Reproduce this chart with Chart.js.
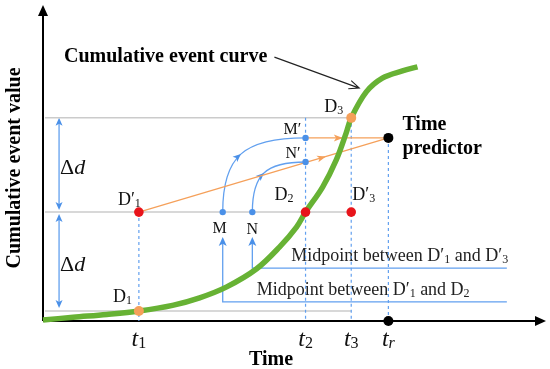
<!DOCTYPE html>
<html>
<head>
<meta charset="utf-8">
<script src="https://cdn.jsdelivr.net/npm/chart.js@4.4.1/dist/chart.umd.min.js"></script>
<style>
  html, body { margin: 0; padding: 0; background: #fff; }
  canvas { display: block; }
</style>
</head>
<body>
<canvas id="chart" width="550" height="369"></canvas>
<script>
// ── Data (time / value units, axes run 0..10) ──
const curveTime  = [0.00, 0.60, 1.27, 1.91, 2.58, 3.12, 3.66, 4.25, 4.71, 5.05, 5.23, 5.57, 5.84, 6.04, 6.14, 6.44, 6.76, 7.16, 7.46];
const curveValue = [0.03, 0.12, 0.21, 0.32, 0.50, 0.74, 1.09, 1.66, 2.36, 3.00, 3.48, 4.28, 5.14, 6.01, 6.49, 7.32, 7.76, 7.99, 8.12];

const tickLabels = ['1', '2', '3', 'r'];
const tickTimes  = [1.91, 5.23, 6.14, 6.88];
const dashTops   = [3.48, 6.49, 6.49, 5.85];

const levelValues = [0.32, 3.48, 6.49];
const levelEnd = 6.14;

const shiftedNames = ['D′1', 'D2', 'D′3'];
const shiftedTime  = [1.91, 5.23, 6.14];
const shiftedValue = [3.48, 3.48, 3.48];

const eventNames = ['D1', 'D3'];
const eventTime  = [1.91, 6.14];
const eventValue = [0.32, 6.49];

const midNames = ['M', 'N', 'M′', 'N′'];
const midTime  = [3.58, 4.17, 5.23, 5.23];
const midValue = [3.48, 3.48, 5.85, 5.08];

const predictorTime = [6.88, 6.88];
const predictorValue = [5.85, 0];

const bracketValues = [0.61, 1.69];
const bracketTip = 2.68;
const bracketEnd = 9.24;
const bracketNotes = [
  ['Midpoint between D′', '1', ' and D', '2'],
  ['Midpoint between D′', '1', ' and D′', '3']
];

const deltaTime = 0.32;
const captionFrom = [4.61, 8.43];
const captionTo = [6.30, 7.44];

// ── Style ──
const SERIF = '"Liberation Serif", "Times New Roman", serif';
const GREEN = '#67b234';
const ORANGE = '#f5a05a';
const RED = '#e8141b';
const BLUE = '#4a90e8';
const BLUE_LINE = '#62a0ef';
const GRAY = '#cbcbcb';

const font = (size, style = '') => `${style} ${size}px ${SERIF}`.trim();

function toXY(xs, ys) {
  return xs.map((x, i) => ({ x, y: ys[i] }));
}

function lineSet(data, color, width, extra = {}) {
  return Object.assign({
    data, showLine: true, borderColor: color, borderWidth: width,
    pointRadius: 0, clip: false, order: 5
  }, extra);
}

function pointSet(data, color, radius) {
  return {
    data, showLine: false, backgroundColor: color, borderColor: color,
    borderWidth: 0, pointRadius: radius, clip: false, order: 0
  };
}

// rich text: parts = [text, sub, text, sub ...]
function drawRich(ctx, x, y, parts, size, subSize, align = 'left', mainStyle = '', subStyle = '') {
  const segs = parts.map((t, i) => ({
    t, f: i % 2 ? font(subSize, subStyle) : font(size, mainStyle), dy: i % 2 ? 2 : 0
  }));
  let w = 0;
  segs.forEach(s => { ctx.font = s.f; s.w = ctx.measureText(s.t).width; w += s.w; });
  let cx = align === 'center' ? x - w / 2 : align === 'right' ? x - w : x;
  ctx.textAlign = 'left';
  ctx.textBaseline = 'alphabetic';
  segs.forEach(s => { ctx.font = s.f; ctx.fillText(s.t, cx, y + s.dy); cx += s.w; });
}

function splitName(name) {
  const last = name.slice(-1);
  return /[0-9]/.test(last) ? [name.slice(0, -1), last] : [name];
}

function arrowHead(ctx, x, y, angle, len, half, color, notch = 0.75) {
  ctx.save();
  ctx.translate(x, y);
  ctx.rotate(angle);
  ctx.fillStyle = color;
  ctx.beginPath();
  ctx.moveTo(0, 0);
  ctx.lineTo(-len, -half);
  ctx.lineTo(-len * notch, 0);
  ctx.lineTo(-len, half);
  ctx.closePath();
  ctx.fill();
  ctx.restore();
}

const diagram = {
  id: 'diagram',
  beforeDatasetsDraw(chart) {
    const { ctx, chartArea: a, scales } = chart;
    const px = v => scales.x.getPixelForValue(v);
    const py = v => scales.y.getPixelForValue(v);
    ctx.save();

    // axes
    ctx.strokeStyle = '#000';
    ctx.lineWidth = 2;
    ctx.beginPath();
    ctx.moveTo(a.left, a.bottom); ctx.lineTo(a.left, a.top + 4);
    ctx.moveTo(a.left, a.bottom); ctx.lineTo(a.right - 6, a.bottom);
    ctx.stroke();
    arrowHead(ctx, a.left, a.top - 3, -Math.PI / 2, 11, 5, '#000', 1);
    arrowHead(ctx, a.right + 1, a.bottom, 0, 11, 5, '#000', 1);

    // Δd double arrows
    const dx = px(deltaTime);
    const spans = [[levelValues[2], levelValues[1]], [levelValues[1], levelValues[0]]];
    ctx.strokeStyle = BLUE_LINE;
    ctx.lineWidth = 1.3;
    spans.forEach(([top, bot], i) => {
      const y1 = py(top) + (i ? 2 : 0), y2 = py(bot) - (i ? 3 : 2);
      ctx.beginPath(); ctx.moveTo(dx, y1 + 4); ctx.lineTo(dx, y2 - 4); ctx.stroke();
      arrowHead(ctx, dx, y1, -Math.PI / 2, 8, 3.5, BLUE);
      arrowHead(ctx, dx, y2, Math.PI / 2, 8, 3.5, BLUE);
    });

    // arcs M -> M', N -> N'
    [[0, 2], [1, 3]].forEach(([s, e]) => {
      const p0 = { x: px(midTime[s]), y: py(midValue[s]) };
      const p3 = { x: px(midTime[e]), y: py(midValue[e]) };
      const p1 = { x: p0.x, y: p0.y - 0.75 * (p0.y - p3.y) };
      const p2 = { x: p3.x - 0.75 * (p3.x - p0.x), y: p3.y };
      ctx.strokeStyle = BLUE_LINE;
      ctx.lineWidth = 1.3;
      ctx.beginPath();
      ctx.moveTo(p0.x, p0.y);
      ctx.bezierCurveTo(p1.x, p1.y, p2.x, p2.y, p3.x, p3.y);
      ctx.stroke();
      const m = {
        x: 0.125 * p0.x + 0.375 * p1.x + 0.375 * p2.x + 0.125 * p3.x,
        y: 0.125 * p0.y + 0.375 * p1.y + 0.375 * p2.y + 0.125 * p3.y
      };
      const d = {
        x: 0.75 * (p1.x - p0.x) + 1.5 * (p2.x - p1.x) + 0.75 * (p3.x - p2.x),
        y: 0.75 * (p1.y - p0.y) + 1.5 * (p2.y - p1.y) + 0.75 * (p3.y - p2.y)
      };
      arrowHead(ctx, m.x, m.y, Math.atan2(d.y, d.x), 8, 3.5, BLUE);
    });

    // orange arrowheads
    const orangeFrom = [[shiftedTime[0], shiftedValue[0]], [midTime[2], midValue[2]]];
    [0.75, 0.45].forEach((f, i) => {
      const x0 = px(orangeFrom[i][0]), y0 = py(orangeFrom[i][1]);
      const x1 = px(predictorTime[0]), y1 = py(predictorValue[0]);
      arrowHead(ctx, x0 + (x1 - x0) * f, y0 + (y1 - y0) * f, Math.atan2(y1 - y0, x1 - x0), 9, 3.5, ORANGE);
    });

    // midpoint brackets
    const noteShift = [34, 39];
    bracketValues.forEach((v, i) => {
      const x = px(midTime[i]);
      ctx.strokeStyle = BLUE_LINE;
      ctx.lineWidth = 1.3;
      ctx.beginPath();
      ctx.moveTo(x, py(bracketTip) + 4);
      ctx.lineTo(x, py(v));
      ctx.lineTo(px(bracketEnd), py(v));
      ctx.stroke();
      arrowHead(ctx, x, py(bracketTip), -Math.PI / 2, 9, 4, BLUE);
      ctx.fillStyle = '#222';
      drawRich(ctx, x + noteShift[i], py(v) - 7, bracketNotes[i], 18, 12);
    });

    // caption arrow
    const cx0 = px(captionFrom[0]), cy0 = py(captionFrom[1]);
    const cx1 = px(captionTo[0]), cy1 = py(captionTo[1]);
    const ang = Math.atan2(cy1 - cy0, cx1 - cx0);
    ctx.strokeStyle = '#222';
    ctx.lineWidth = 1.1;
    ctx.beginPath();
    ctx.moveTo(cx0, cy0); ctx.lineTo(cx1, cy1);
    ctx.moveTo(cx1 - 11 * Math.cos(ang - 0.4), cy1 - 11 * Math.sin(ang - 0.4));
    ctx.lineTo(cx1, cy1);
    ctx.lineTo(cx1 - 11 * Math.cos(ang + 0.4), cy1 - 11 * Math.sin(ang + 0.4));
    ctx.stroke();
    ctx.restore();
  },
  afterDatasetsDraw(chart) {
    const { ctx, scales } = chart;
    const px = v => scales.x.getPixelForValue(v);
    const py = v => scales.y.getPixelForValue(v);
    ctx.save();
    ctx.fillStyle = '#111';

    // point labels
    const shiftedOff = [[-21, -7], [-31, -12], [1, -12]];
    shiftedNames.forEach((n, i) => drawRich(ctx, px(shiftedTime[i]) + shiftedOff[i][0], py(shiftedValue[i]) + shiftedOff[i][1], splitName(n), 18, 12));
    const eventOff = [[-26, -9], [-27, -6]];
    eventNames.forEach((n, i) => drawRich(ctx, px(eventTime[i]) + eventOff[i][0], py(eventValue[i]) + eventOff[i][1], splitName(n), 18, 12));
    const midOff = [[-3, 21, 'center'], [0, 22, 'center'], [-22, -4, 'left'], [-20, -4, 'left']];
    midNames.forEach((n, i) => drawRich(ctx, px(midTime[i]) + midOff[i][0], py(midValue[i]) + midOff[i][1], [n], 16, 12, midOff[i][2]));

    // Δd
    const spans = [[levelValues[2], levelValues[1]], [levelValues[1], levelValues[0]]];
    spans.forEach(([t, b]) => {
      const y = (py(t) + py(b)) / 2 + 9;
      ctx.font = font(22);
      ctx.textAlign = 'left';
      ctx.fillText('Δ', px(deltaTime) + 1, y);
      const w = ctx.measureText('Δ').width;
      ctx.font = font(22, 'italic');
      ctx.fillText('d', px(deltaTime) + 1 + w, y);
    });

    // tick labels t1, t2, t3, tr
    tickTimes.forEach((t, i) => {
      drawRich(ctx, px(t), py(0) + 25, ['t', tickLabels[i]], 24, 16, 'center', 'italic', tickLabels[i] === 'r' ? 'italic' : '');
    });

    // titles
    ctx.fillStyle = '#000';
    ctx.font = font(20, 'bold');
    ctx.textAlign = 'left';
    ctx.fillText('Cumulative event curve', 64, 62);
    ctx.fillText('Time', px(predictorTime[0]) + 14, py(predictorValue[0]) - 8);
    ctx.fillText('predictor', px(predictorTime[0]) + 14, py(predictorValue[0]) + 16);
    ctx.textAlign = 'center';
    ctx.fillText('Time', 271, 365);
    ctx.translate(20, 168);
    ctx.rotate(-Math.PI / 2);
    ctx.fillText('Cumulative event value', 0, 0);
    ctx.restore();
  }
};

const datasets = [
  pointSet(toXY(shiftedTime, shiftedValue), RED, 4.8),
  pointSet(toXY(eventTime, eventValue), ORANGE, 5),
  pointSet(toXY(midTime, midValue), BLUE, 3.2),
  pointSet(toXY(predictorTime, predictorValue), '#000', 5),
  lineSet(toXY(curveTime, curveValue), GREEN, 5.5, { tension: 0.35, order: 1 }),
  lineSet([{ x: shiftedTime[0], y: shiftedValue[0] }, { x: predictorTime[0], y: predictorValue[0] }], ORANGE, 1.2, { order: 2 }),
  lineSet([{ x: midTime[2], y: midValue[2] }, { x: predictorTime[0], y: predictorValue[0] }], ORANGE, 1.2, { order: 2 }),
  ...tickTimes.map((t, i) => lineSet([{ x: t, y: dashTops[i] }, { x: t, y: 0 }], BLUE_LINE, 1.2, { borderDash: [3, 3], order: 3 })),
  ...levelValues.map(v => lineSet([{ x: 0.04, y: v }, { x: levelEnd, y: v }], GRAY, 1.5, { order: 4 }))
];

new Chart(document.getElementById('chart'), {
  type: 'scatter',
  data: { datasets },
  options: {
    responsive: false,
    animation: false,
    devicePixelRatio: 1,
    events: [],
    layout: { padding: { left: 43, right: 4, top: 8, bottom: 48 } },
    scales: {
      x: { type: 'linear', min: 0, max: 10, display: false },
      y: { type: 'linear', min: 0, max: 10, display: false }
    },
    plugins: { legend: { display: false }, tooltip: { enabled: false } }
  },
  plugins: [diagram]
});
</script>
</body>
</html>
